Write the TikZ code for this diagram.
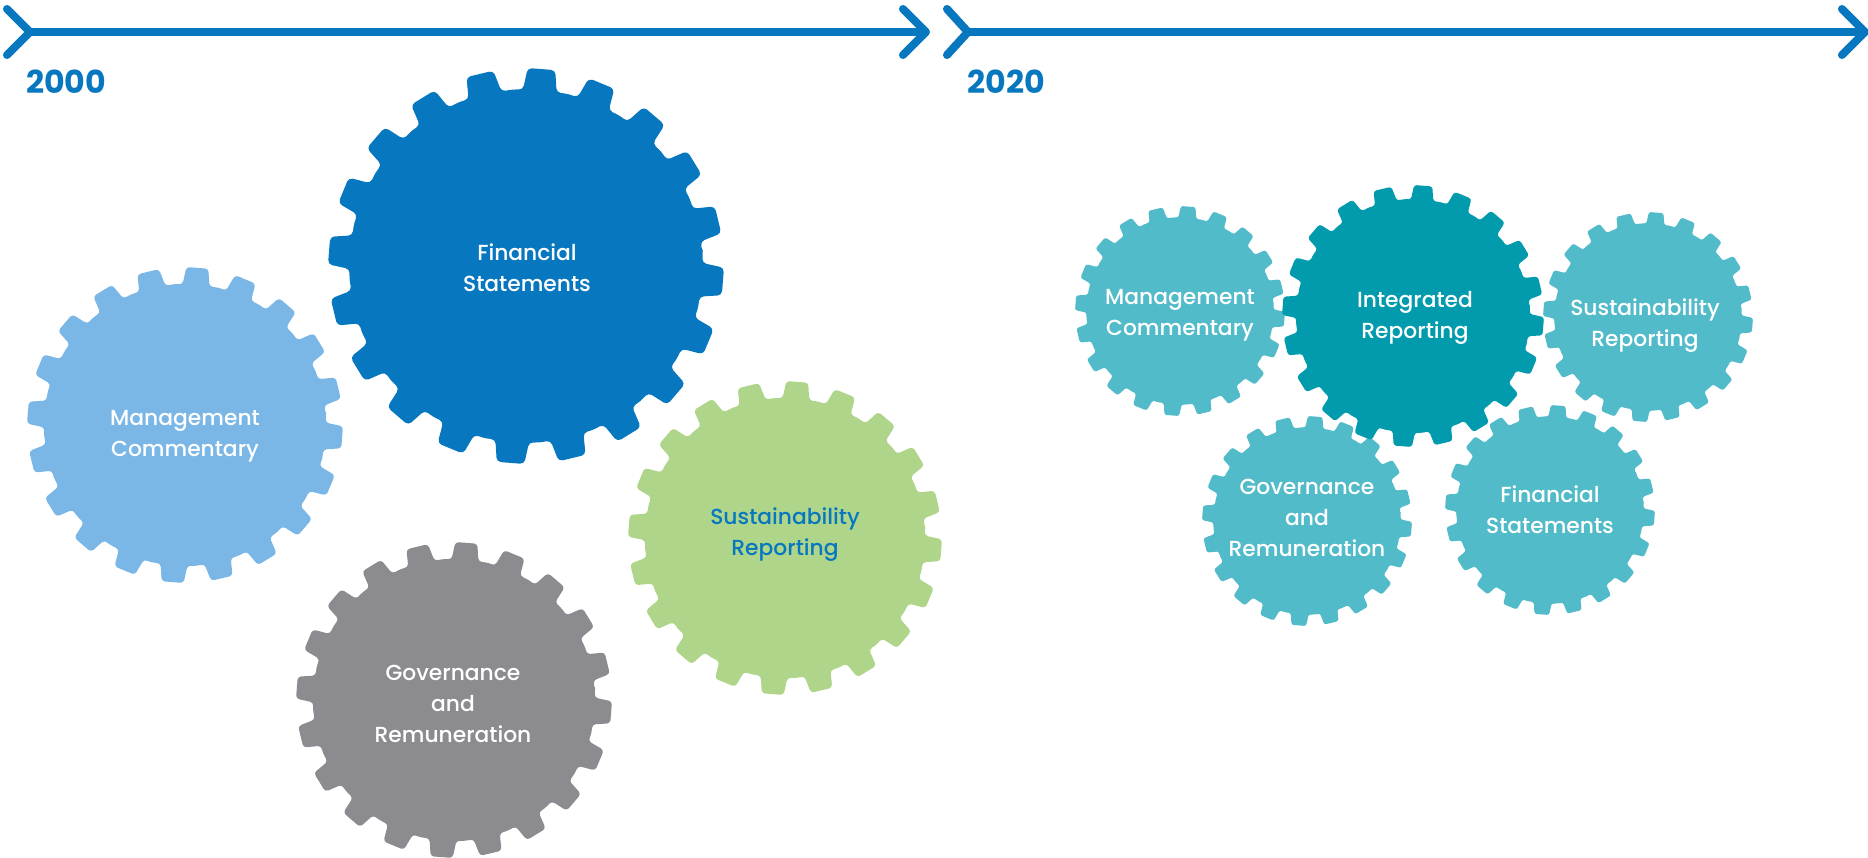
\documentclass[tikz,border=0pt]{standalone}
\usepackage{fontspec}
\setmainfont{Poppins}
\newfontfamily\gearfont{Poppins Medium}
\usepackage{xcolor}
\definecolor{arrowblue}{HTML}{0777C0}
\definecolor{mgmtblue}{HTML}{7AB6E6}
\definecolor{susgreen}{HTML}{AED58A}
\definecolor{govgrey}{HTML}{8C8B90}
\definecolor{tealpale}{HTML}{52BBC9}
\definecolor{tealdark}{HTML}{019BAD}
\tikzset{
  timeline/.style={draw=arrowblue,line width=2.5pt},
  chevron/.style={draw=arrowblue,line width=2.3pt,line cap=round,line join=round},
  yearlabel/.style={text=arrowblue,font=\fontsize{9}{9}\selectfont\bfseries},
  gearlabel/.style={text=white,align=center,font=\gearfont\fontsize{6.2}{8.8}\selectfont}
}
% centre x, centre y, outer radius, colour
\newcommand{\gearshape}[4]{
\fill[#4,rounded corners=#3*0.006pt] ({#1+#3*0.895*cos(4)},{#2-#3*0.895*sin(4)})
\foreach \a in {0,18,...,342}{
  -- ({#1+#3*0.89*cos(\a+8)},{#2-#3*0.89*sin(\a+8)})
  -- ({#1+#3*cos(\a+9.5)},{#2-#3*sin(\a+9.5)})
  -- ({#1+#3*cos(\a+17.5)},{#2-#3*sin(\a+17.5)})
  -- ({#1+#3*0.89*cos(\a+19)},{#2-#3*0.89*sin(\a+19)})
  -- ({#1+#3*0.895*cos(\a+22)},{#2-#3*0.895*sin(\a+22)})
} -- cycle;
}
\begin{document}
\begin{tikzpicture}[x=0.01cm,y=-0.01cm]
\useasboundingbox (0,0) rectangle (1868,858);
% time lines
\coordinate (tailA) at (30,32);
\coordinate (headA) at (926,32);
\coordinate (tailB) at (968,32);
\coordinate (headB) at (1865,32);
\draw[chevron] (7,9) -- (tailA) -- (7,55);
\draw[timeline] (tailA) -- (headA);
\draw[chevron] (903,9) -- (headA) -- (903,55);
\draw[chevron] (947,9) -- (tailB) -- (947,55);
\draw[timeline] (tailB) -- (headB);
\draw[chevron] (1842,9) -- (headB) -- (1842,55);
\node[yearlabel] (yearA) at (66,82) {2000};
\node[yearlabel] (yearB) at (1006,82) {2020};
% 2000
\gearshape{526}{266}{198}{arrowblue}
\gearshape{185}{425}{158}{mgmtblue}
\gearshape{785}{538}{157}{susgreen}
\gearshape{454}{700}{158}{govgrey}
\node[gearlabel] (finA) at (527,268) {Financial\\Statements};
\node[gearlabel] (mgmtA) at (185,436) {Management\\Commentary};
\node[gearlabel,text=arrowblue] (susA) at (785,535) {Sustainability\\Reporting};
\node[gearlabel] (govA) at (453,704) {Governance\\and\\Remuneration};
% 2020
\gearshape{1180}{311}{105}{tealpale}
\gearshape{1648}{317}{105}{tealpale}
\gearshape{1307}{521}{105}{tealpale}
\gearshape{1550}{510}{105}{tealpale}
\gearshape{1413}{316}{131}{tealdark}
\node[gearlabel] (mgmtB) at (1180,315) {Management\\Commentary};
\node[gearlabel] (intB) at (1415,318) {Integrated\\Reporting};
\node[gearlabel] (susB) at (1645,326) {Sustainability\\Reporting};
\node[gearlabel] (govB) at (1307,518) {Governance\\and\\Remuneration};
\node[gearlabel] (finB) at (1550,510) {Financial\\Statements};
\end{tikzpicture}
\end{document}
